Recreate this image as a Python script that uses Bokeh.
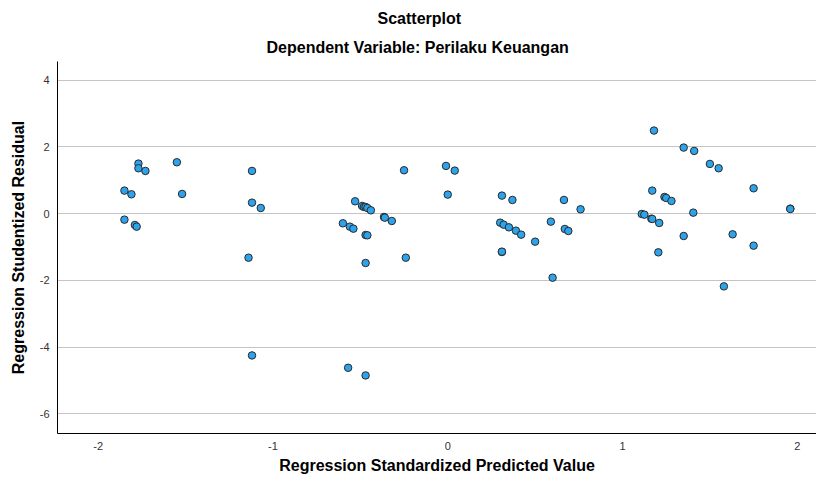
from bokeh.plotting import figure
from bokeh.models import Range1d, FixedTicker, Title, ColumnDataSource
from bokeh.embed import file_html
from bokeh.resources import INLINE

# Data
pred = [-1.85, -1.81, -1.77, -1.77, -1.73, -1.55, -1.52, -1.85, -1.79, -1.78,
        -1.12, -1.12, -1.07, -1.14, -0.47, -0.24, -1.12, -0.57, -0.47,
        -0.25, -0.01, 0.04, 0.00, -0.53, -0.49, -0.48, -0.47, -0.46, -0.44,
        -0.365, -0.36, -0.32, -0.60, -0.56, -0.54, -0.47, -0.46,
        0.31, 0.37, 0.30, 0.32, 0.35, 0.39, 0.42, 0.50, 0.31, 0.31,
        0.59, 0.665, 0.67, 0.69, 0.76, 0.60,
        1.18, 1.35, 1.41, 1.50, 1.55, 1.17, 1.24, 1.25, 1.28, 1.75, 1.96, 1.96,
        1.11, 1.125, 1.165, 1.17, 1.21, 1.405, 1.35, 1.63, 1.75, 1.205, 1.58]
resid = [0.69, 0.58, 1.50, 1.36, 1.28, 1.54, 0.59, -0.18, -0.34, -0.39,
         1.28, 0.33, 0.17, -1.32, -1.48, -1.32, -4.25, -4.62, -4.85,
         1.30, 1.43, 1.29, 0.57, 0.37, 0.23, 0.20, 0.20, 0.17, 0.10,
         -0.10, -0.12, -0.22, -0.29, -0.39, -0.45, -0.64, -0.65,
         0.54, 0.41, -0.27, -0.33, -0.41, -0.51, -0.63, -0.84, -1.15, -1.14,
         -0.24, 0.41, -0.46, -0.52, 0.13, -1.92,
         2.49, 1.98, 1.88, 1.49, 1.36, 0.69, 0.50, 0.47, 0.38, 0.76, 0.15, 0.14,
         -0.01, -0.03, -0.15, -0.16, -0.28, 0.03, -0.67, -0.62, -0.96, -1.16, -2.18]

x_ticks = [-2, -1, 0, 1, 2]
x_tick_labels = ["-2", "-1", "0", "1", "2"]
y_ticks = [-6, -4, -2, 0, 2, 4]
y_tick_labels = ["-6", "-4", "-2", "0", "2", "4"]

title_text = "Scatterplot"
subtitle_text = "Dependent Variable: Perilaku Keuangan"
x_label = "Regression Standardized Predicted Value"
y_label = "Regression Studentized Residual"

FONT = "Liberation Sans"

p = figure(width=816, height=477, output_backend="svg", toolbar_location=None,
           x_range=Range1d(-2.233, 2.11), y_range=Range1d(-6.59, 4.56),
           min_border_left=57, min_border_right=0, min_border_top=61,
           min_border_bottom=44, title=title_text)

p.title.text_font = FONT
p.title.text_font_size = "16px"
p.title.text_font_style = "bold"
p.title.text_color = "black"
p.title.align = "left"
p.title.offset = 320
p.title.standoff = 9

sub = Title(text=subtitle_text, align="left", text_font=FONT, text_font_size="16px",
            text_font_style="bold", text_color="black", offset=209, standoff=11)
p.add_layout(sub, "above")

p.outline_line_color = None
p.background_fill_color = "white"
p.border_fill_color = "white"

src = ColumnDataSource(dict(x=pred, y=resid))
p.scatter("x", "y", source=src, size=7.5, fill_color="#2da3ec",
          line_color="#2a2a2a", line_width=1)

p.xgrid.grid_line_color = None
p.ygrid.grid_line_color = "#c4c4c4"
p.ygrid.grid_line_width = 1.2

p.xaxis.ticker = FixedTicker(ticks=x_ticks)
p.yaxis.ticker = FixedTicker(ticks=y_ticks)
p.xaxis.major_label_overrides = {t: l for t, l in zip(x_ticks, x_tick_labels)}
p.yaxis.major_label_overrides = {t: l for t, l in zip(y_ticks, y_tick_labels)}

for ax in (p.xaxis, p.yaxis):
    ax.major_tick_line_color = None
    ax.minor_tick_line_color = None
    ax.axis_line_color = "black"
    ax.axis_line_width = 1
    ax.major_label_text_font = FONT
    ax.major_label_text_font_size = "11px"
    ax.major_label_text_color = "#333333"
    ax.axis_label_text_font = FONT
    ax.axis_label_text_font_size = "16px"
    ax.axis_label_text_font_style = "bold"
    ax.axis_label_text_color = "black"

p.xaxis.axis_label = x_label
p.yaxis.axis_label = y_label
p.xaxis.major_label_standoff = 2
p.yaxis.major_label_standoff = 2
p.xaxis.axis_label_standoff = 4
p.yaxis.axis_label_standoff = 10

open("out.html", "w").write(file_html(p, INLINE))
